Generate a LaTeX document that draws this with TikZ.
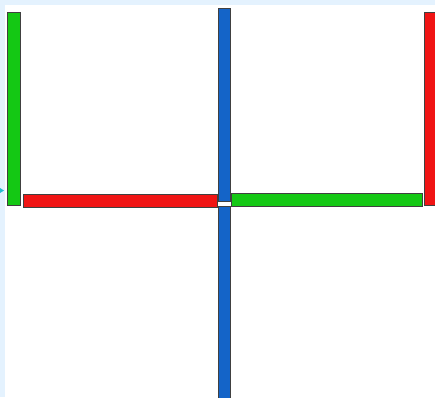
\documentclass[tikz,border=0pt]{standalone}
\usepackage{tikz}
\definecolor{paneBlue}{RGB}{228,242,254}
\definecolor{barGreen}{RGB}{20,200,20}
\definecolor{barRed}{RGB}{240,20,20}
\definecolor{barBlue}{RGB}{20,100,200}
\definecolor{tipCyan}{RGB}{40,190,210}

\begin{document}
\begin{tikzpicture}[x=1pt, y=-1pt, bar/.style={draw=black!75, line width=0.8pt}]
  \useasboundingbox (0,0) rectangle (435,397);
  \clip (0,0) rectangle (435,397);
  \fill[white] (0,0) rectangle (435,397);
  \fill[paneBlue] (0,0) rectangle (435,5);
  \fill[paneBlue] (0,0) rectangle (5,397);
  \fill[tipCyan] (0,188) -- (4,190.5) -- (0,193) -- cycle;
  % left post and beam
  \filldraw[bar, fill=barGreen] (7,12) rectangle (20,205);
  \filldraw[bar, fill=barRed] (23,194) rectangle (217,207);
  % middle mast
  \filldraw[bar, fill=barBlue] (218,8) rectangle (230,201);
  \filldraw[bar, fill=barBlue] (218,206) rectangle (230,402);
  % right beam and post
  \filldraw[bar, fill=barGreen] (231,193) rectangle (422,206);
  \filldraw[bar, fill=barRed] (424,12) rectangle (437,205);
\end{tikzpicture}
\end{document}
